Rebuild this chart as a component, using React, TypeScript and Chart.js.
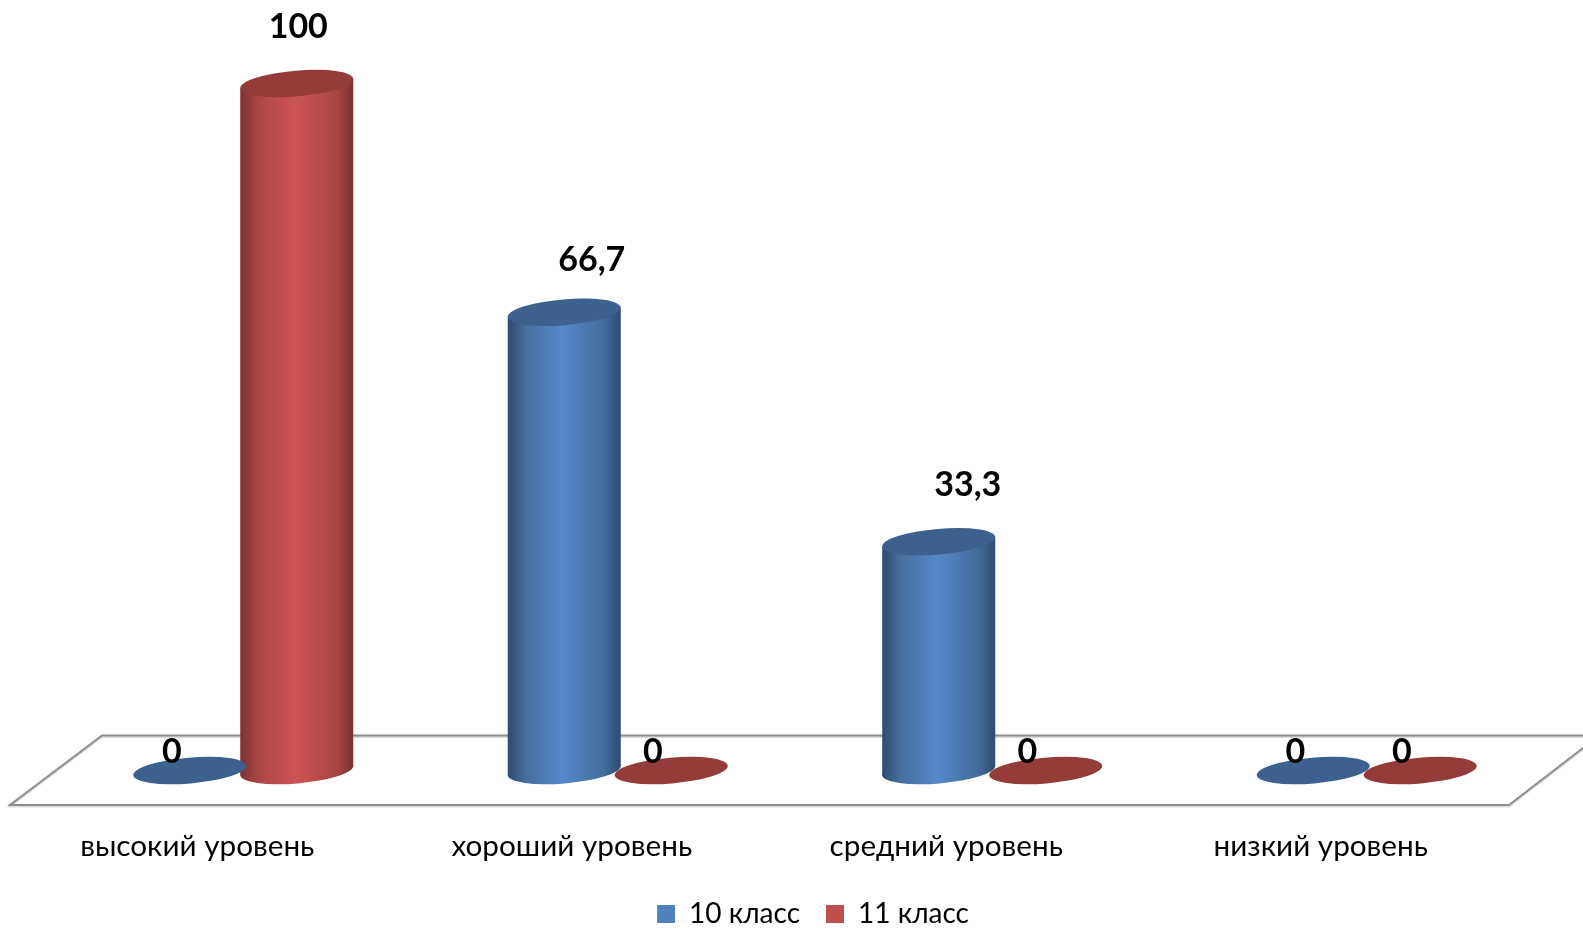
import React, { useEffect, useRef } from "react";
import { Chart, registerables } from "chart.js";

Chart.register(...registerables);

const categories = ["высокий уровень", "хороший уровень", "средний уровень", "низкий уровень"];
const seriesNames = ["10 класс", "11 класс"];
const values10 = [0, 66.7, 33.3, 0];
const values11 = [100, 0, 0, 0];

const FONT = "Lato, 'Noto Sans', sans-serif";

const legendColors = ["#4f81bd", "#c0504d"];
const capColors = ["#3c618e", "#933c3a"];
const sideStops = [
  ["#2e4a70", "#466f9f", "#5589ca", "#4f7fb9", "#426a99", "#2e4a70"],
  ["#7b3331", "#aa4745", "#cd5553", "#c0504e", "#a64543", "#7b3331"],
];
const stopAt = [0, 0.16, 0.48, 0.62, 0.86, 1];

// label nudges from the top of each mark, [dx, dy]
const labelNudges = [
  [[-18, -18.5], [27.5, -52], [29, -56.5], [-18, -18.5]],
  [[1.5, -56], [-18.5, -18.5], [-18.5, -18.5], [-18.5, -18.5]],
];

const TILT = 0.0837;
const RX = 56.7;
const RY = 12.9;
const EDGE = 4.5;

const cylinderPlugin = {
  id: "cylinder",
  beforeDatasetsDraw(chart: any) {
    const { ctx, scales, width } = chart;
    const base = scales.y.getPixelForValue(0);
    const backY = base - 35;
    const frontY = base + 34.5;
    const draw = (color: string, lw: number, dy: number) => {
      ctx.save();
      ctx.strokeStyle = color;
      ctx.lineWidth = lw;
      ctx.lineJoin = "miter";
      ctx.beginPath();
      ctx.moveTo(width, backY + dy);
      ctx.lineTo(102, backY + dy);
      ctx.lineTo(10, frontY + dy);
      ctx.lineTo(1509, frontY + dy);
      ctx.lineTo(width, base - 22.5 + dy);
      ctx.stroke();
      ctx.restore();
    };
    draw("#dcdcdc", 2, 1.5);
    draw("#8e8e8e", 2, 0);
  },
  beforeDatasetDraw(chart: any, args: any) {
    const { ctx } = chart;
    const i = args.index;
    const meta = chart.getDatasetMeta(i);
    meta.data.forEach((bar: any) => {
      const p = bar.getProps(["x", "y", "base", "width"], true);
      const left = p.x - p.width / 2;
      const right = p.x + p.width / 2;
      ctx.save();
      if (Math.abs(p.base - p.y) > 0.5) {
        const g = ctx.createLinearGradient(left, 0, right, 0);
        sideStops[i].forEach((c, k) => g.addColorStop(stopAt[k], c));
        ctx.fillStyle = g;
        ctx.beginPath();
        ctx.ellipse(p.x, p.base, RX, RY, -TILT, 0, Math.PI * 2);
        ctx.fill();
        ctx.beginPath();
        ctx.moveTo(left, p.y + EDGE);
        ctx.lineTo(left, p.base + EDGE);
        ctx.lineTo(right, p.base - EDGE);
        ctx.lineTo(right, p.y - EDGE);
        ctx.closePath();
        ctx.fill();
      }
      ctx.fillStyle = capColors[i];
      ctx.beginPath();
      ctx.ellipse(p.x, p.y, RX, RY, -TILT, 0, Math.PI * 2);
      ctx.fill();
      ctx.restore();
    });
    return false;
  },
  afterDatasetsDraw(chart: any) {
    const { ctx } = chart;
    ctx.save();
    ctx.font = `bold 34px ${FONT}`;
    ctx.fillStyle = "#000";
    ctx.textAlign = "center";
    ctx.textBaseline = "middle";
    chart.data.datasets.forEach((ds: any, i: number) => {
      chart.getDatasetMeta(i).data.forEach((bar: any, j: number) => {
        const [dx, dy] = labelNudges[i][j];
        ctx.fillText(String(ds.data[j]).replace(".", ","), bar.x + dx, bar.y + dy);
      });
    });
    ctx.restore();
  },
  afterLayout(chart: any) {
    chart.legend.left += 8;
    chart.legend.right += 8;
    chart.legend.top += 9;
    chart.legend.bottom += 9;
  },
};

export default function App() {
  const ref = useRef<HTMLCanvasElement>(null);
  useEffect(() => {
    document.body.style.margin = "0";
    document.body.style.overflow = "hidden";
    const chart = new Chart(ref.current as HTMLCanvasElement, {
      type: "bar",
      data: {
        labels: categories,
        datasets: [
          { label: seriesNames[0], data: values10, backgroundColor: legendColors[0], borderWidth: 0 },
          { label: seriesNames[1], data: values11, backgroundColor: legendColors[1], borderWidth: 0 },
        ],
      },
      options: {
        responsive: false,
        animation: false,
        layout: { padding: { left: 56, right: 29, top: 83.5, bottom: 0 } },
        datasets: { bar: { categoryPercentage: 0.5715, barPercentage: 1.056 } },
        plugins: {
          tooltip: { enabled: false },
          legend: {
            position: "bottom",
            labels: {
              boxWidth: 18,
              boxHeight: 18,
              padding: 26,
              color: "#000",
              font: { family: FONT, size: 28 },
            },
          },
        },
        scales: {
          y: { display: false, min: 0, max: 100 },
          x: {
            grid: { display: false, drawTicks: false },
            border: { display: false },
            afterFit(s: any) {
              s.height -= 57.2;
            },
            ticks: { padding: 58, labelOffset: -46, color: "#000", maxRotation: 0, font: { family: FONT, size: 29.7 } },
          },
        },
      } as any,
      plugins: [cylinderPlugin as any],
    });
    return () => chart.destroy();
  }, []);
  return (
    <div style={{ position: "absolute", left: 0, top: 0, width: 1583, height: 929, background: "#fff" }}>
      <canvas ref={ref} width={1583} height={929} style={{ display: "block" }} />
    </div>
  );
}
